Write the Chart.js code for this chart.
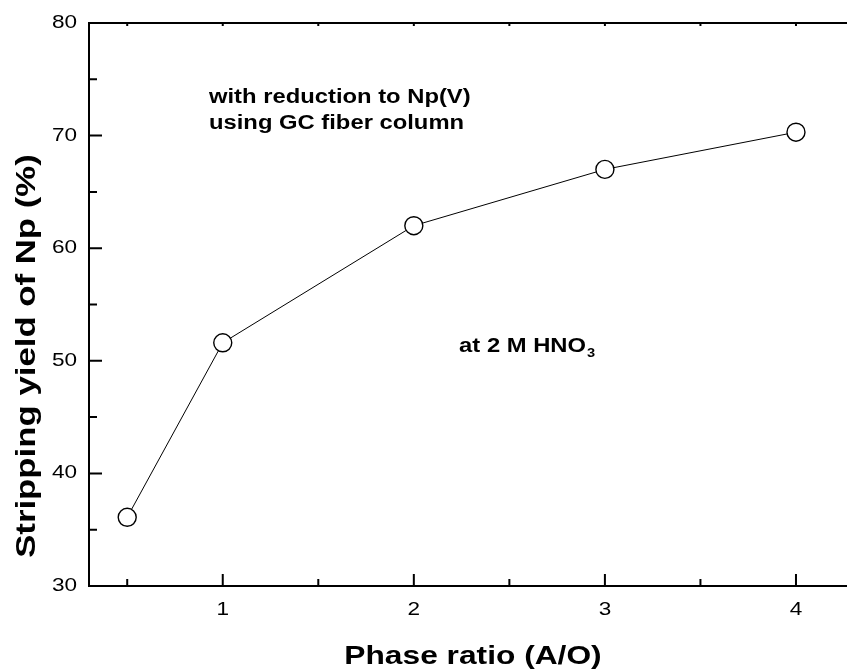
<!DOCTYPE html>
<html>
<head>
<meta charset="utf-8">
<script src="https://cdn.jsdelivr.net/npm/chart.js@4/dist/chart.umd.min.js"></script>
<style>
  html, body { margin: 0; padding: 0; background: #fff; overflow: hidden; }
  #wrap { width: 847px; height: 671px; }
</style>
</head>
<body>
<div id="wrap"><canvas id="chart"></canvas></div>
<script>
// Data
const phaseRatio = [0.5, 1, 2, 3, 4];
const strippingYield = [36.1, 51.6, 62.0, 67.0, 70.3];

const xMajorTicks = [1, 2, 3, 4];
const xMinorTicks = [0.5, 1.5, 2.5, 3.5];
const yMajorTicks = [30, 40, 50, 60, 70, 80];
const yMinorTicks = [35, 45, 55, 65, 75];

const xTitle = 'Phase ratio (A/O)';
const yTitle = 'Stripping yield of Np (%)';
const note1 = ['with reduction to Np(V)', 'using GC fiber column'];
const note2 = 'at 2 M HNO';

const FONT = '"Liberation Sans", Arial, sans-serif';
const STRETCH = 1.22;   // the original lettering is a bit wide

// draw text stretched horizontally (in its own reading direction)
function wideText(ctx, text, x, y, font, align) {
    ctx.save();
    ctx.font = font;
    const w = ctx.measureText(text).width * STRETCH;
    let x0 = x;
    if (align === 'center') x0 = x - w / 2;
    else if (align === 'right') x0 = x - w;
    ctx.translate(x0, y);
    ctx.scale(STRETCH, 1);
    ctx.textAlign = 'left';
    ctx.fillText(text, 0, 0);
    ctx.restore();
    return w;
}

const framePlugin = {
    id: 'frame',
    afterDraw(chart) {
        const ctx = chart.ctx;
        const area = chart.chartArea;
        const xs = chart.scales.x;
        const ys = chart.scales.y;
        ctx.save();
        ctx.strokeStyle = '#000';
        ctx.lineWidth = 2;
        ctx.beginPath();
        ctx.moveTo(area.left, area.top);
        ctx.lineTo(area.right, area.top);
        const tick = (vals, len) => {
            vals.forEach(v => {
                const px = xs.getPixelForValue(v);
                ctx.moveTo(px, area.bottom);
                ctx.lineTo(px, area.bottom - len);
                ctx.moveTo(px, area.top);
                ctx.lineTo(px, area.top + 3);
            });
        };
        tick(xMajorTicks, 12);
        tick(xMinorTicks, 7);
        yMajorTicks.forEach(v => {
            const py = ys.getPixelForValue(v);
            ctx.moveTo(area.left, py);
            ctx.lineTo(area.left + 13, py);
        });
        yMinorTicks.forEach(v => {
            const py = ys.getPixelForValue(v);
            ctx.moveTo(area.left, py);
            ctx.lineTo(area.left + 8, py);
        });
        ctx.stroke();

        ctx.fillStyle = '#000';
        // tick labels
        ctx.textBaseline = 'middle';
        const tickFont = '18.5px ' + FONT;
        yMajorTicks.forEach(v => {
            wideText(ctx, String(v), area.left - 12, ys.getPixelForValue(v), tickFont, 'right');
        });
        xMajorTicks.forEach(v => {
            wideText(ctx, String(v), xs.getPixelForValue(v), area.bottom + 24, tickFont, 'center');
        });

        // axis titles
        ctx.textBaseline = 'alphabetic';
        wideText(ctx, xTitle, 473, 664, 'bold 26px ' + FONT, 'center');
        ctx.save();
        ctx.translate(35, 356);
        ctx.rotate(-Math.PI / 2);
        wideText(ctx, yTitle, 0, 0, 'bold 28.5px ' + FONT, 'center');
        ctx.restore();

        // annotations
        const nf = 'bold 19.5px ' + FONT;
        const ax = xs.getPixelForValue(0.928);
        wideText(ctx, note1[0], ax, ys.getPixelForValue(72.9), nf, 'left');
        wideText(ctx, note1[1], ax, ys.getPixelForValue(70.6), nf, 'left');
        const bx = xs.getPixelForValue(2.237);
        const by = ys.getPixelForValue(50.8);
        const w = wideText(ctx, note2, bx, by, nf, 'left');
        wideText(ctx, '3', bx + w + 1, by + 5, 'bold 12px ' + FONT, 'left');
        ctx.restore();
    }
};

new Chart(document.getElementById('chart'), {
    type: 'scatter',
    data: {
        datasets: [
            {
                data: phaseRatio.map((x, i) => ({ x: x, y: strippingYield[i] })),
                showLine: true,
                borderColor: '#000',
                borderWidth: 1,
                pointRadius: 9,
                pointBorderWidth: 1.4,
                pointBackgroundColor: '#fff',
                pointBorderColor: '#000'
            },
            {
                // centre dots of the markers
                data: phaseRatio.map((x, i) => ({ x: x, y: strippingYield[i] })),
                showLine: false,
                pointRadius: 1.3,
                pointBorderWidth: 0,
                pointBackgroundColor: '#000'
            }
        ]
    },
    options: {
        responsive: true,
        maintainAspectRatio: false,
        animation: false,
        layout: { autoPadding: false, padding: { top: 23, right: 0, left: 0, bottom: 0 } },
        plugins: {
            legend: { display: false },
            tooltip: { enabled: false }
        },
        scales: {
            x: {
                type: 'linear',
                min: 0.3,
                max: 4.267,
                afterFit: s => { s.height = 85; s.paddingLeft = 0; s.paddingRight = 0; },
                grid: { display: false, drawTicks: false },
                border: { display: true, color: '#000', width: 2 },
                ticks: { display: false }
            },
            y: {
                min: 30,
                max: 80,
                afterFit: s => { s.width = 89; s.paddingTop = 0; s.paddingBottom = 0; },
                grid: { display: false, drawTicks: false },
                border: { display: true, color: '#000', width: 2 },
                ticks: { display: false }
            }
        }
    },
    plugins: [framePlugin]
});
</script>
</body>
</html>
